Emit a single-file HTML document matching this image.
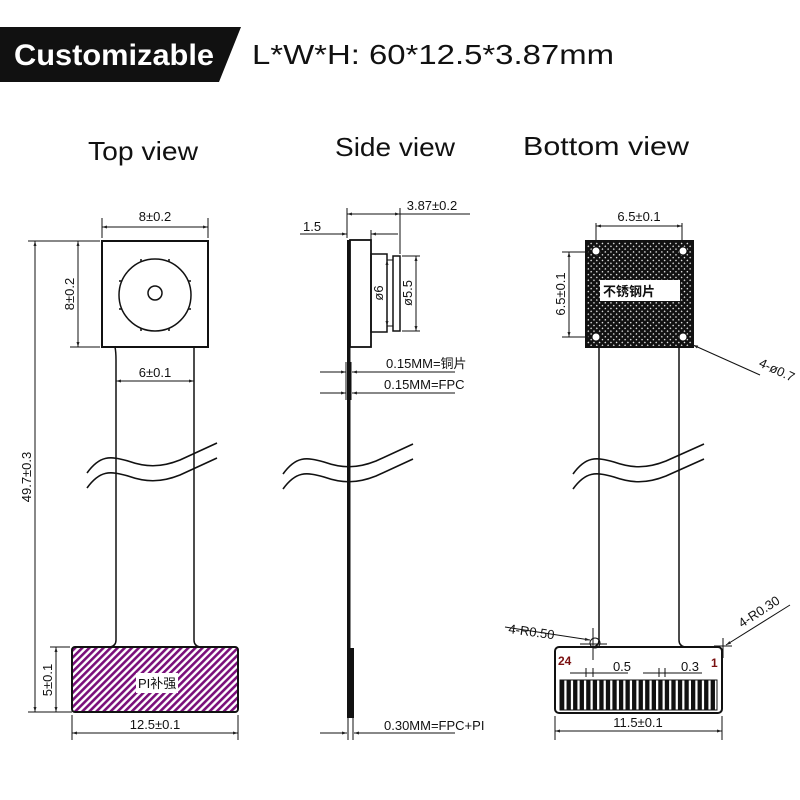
<!DOCTYPE html>
<html><head><meta charset="utf-8"><style>
html,body{margin:0;padding:0;background:#fff;}
svg{display:block;}
text{font-family:"Liberation Sans","Noto Sans CJK SC",sans-serif;}
.d{font-family:"Liberation Sans Narrow","Liberation Sans","Noto Sans CJK SC",sans-serif;font-size:13px;fill:#111;}
</style></head><body>
<svg width="800" height="800" viewBox="0 0 800 800" xmlns="http://www.w3.org/2000/svg">
<defs>
<pattern id="ph" patternUnits="userSpaceOnUse" width="5" height="5" patternTransform="rotate(45)">
<rect width="5" height="5" fill="#fff"/><rect width="2.6" height="5" fill="#7a0f7a"/>
</pattern>
<pattern id="xh" patternUnits="userSpaceOnUse" width="4" height="4" patternTransform="rotate(45)">
<rect width="4" height="4" fill="#111"/><rect x="1.5" y="1.5" width="1.3" height="1.3" fill="#fff"/>
</pattern>
<marker id="a" viewBox="0 0 10 10" refX="10" refY="5" markerWidth="7" markerHeight="5" orient="auto-start-reverse"><path d="M0,2 L10,5 L0,8z" fill="#222"/></marker>
</defs>
<!-- banner -->
<polygon points="0,27 241,27 219,82 0,82" fill="#111"/>
<text x="14" y="65" font-size="30" font-weight="bold" fill="#fff" textLength="200" lengthAdjust="spacingAndGlyphs">Customizable</text>
<text x="252" y="64" font-size="28" fill="#111" textLength="362" lengthAdjust="spacingAndGlyphs">L*W*H:  60*12.5*3.87mm</text>
<text x="88" y="160" font-size="26" fill="#111" font-family="DejaVu Sans" textLength="110" lengthAdjust="spacingAndGlyphs">Top view</text>
<text x="335" y="156" font-size="26" fill="#111" font-family="DejaVu Sans" textLength="120" lengthAdjust="spacingAndGlyphs">Side view</text>
<text x="523" y="155" font-size="26" fill="#111" font-family="DejaVu Sans" textLength="166" lengthAdjust="spacingAndGlyphs">Bottom view</text>

<g stroke="#111" fill="none" stroke-width="1">
<!-- TOP VIEW -->
<rect x="102" y="241" width="106" height="106" stroke-width="2"/>
<circle cx="155" cy="295" r="36" stroke-width="1.5"/>
<g stroke-width="1.5"><path d="M141,262 l0,-3 M169,262 l0,-3 M141,328 l0,3 M169,328 l0,3 M122,281 l-3,0 M122,309 l-3,0 M188,281 l3,0 M188,309 l3,0"/></g>
<circle cx="155" cy="293" r="7" stroke-width="1.5"/>
<path d="M115,347 Q116,352 116,360 L116,640 Q116,646 110,647 M194,347 Q194,352 194,360 L194,640 Q194,646 200,647" stroke-width="1.5"/>
<rect x="72" y="647" width="166" height="65" rx="3" fill="url(#ph)" stroke-width="2"/>
<path d="M87,473 C100,455 110,456 128,461 C145,467 160,468 180,460 L217,443 M87,488 C100,470 110,471 128,476 C145,482 160,483 180,475 L217,458" stroke-width="1.6"/>
<line x1="102" y1="218" x2="102" y2="238"/><line x1="208" y1="218" x2="208" y2="238"/>
<line x1="102" y1="227" x2="208" y2="227" marker-start="url(#a)" marker-end="url(#a)"/>
<line x1="70" y1="241" x2="100" y2="241"/><line x1="70" y1="347" x2="100" y2="347"/>
<line x1="78" y1="241" x2="78" y2="347" marker-start="url(#a)" marker-end="url(#a)"/>
<line x1="28" y1="241" x2="70" y2="241"/>
<line x1="35" y1="241" x2="35" y2="712" marker-start="url(#a)" marker-end="url(#a)"/>
<line x1="28" y1="712" x2="72" y2="712"/>
<line x1="116" y1="381" x2="194" y2="381" marker-start="url(#a)" marker-end="url(#a)"/>
<line x1="50" y1="647" x2="70" y2="647"/>
<line x1="56" y1="647" x2="56" y2="712" marker-start="url(#a)" marker-end="url(#a)"/>
<line x1="72" y1="715" x2="72" y2="740"/><line x1="238" y1="715" x2="238" y2="740"/>
<line x1="72" y1="733" x2="238" y2="733" marker-start="url(#a)" marker-end="url(#a)"/>

<!-- SIDE VIEW -->
<rect x="347" y="240" width="3.5" height="478" fill="#111" stroke="none"/>
<rect x="350" y="240" width="21" height="107" stroke-width="1.8"/>
<rect x="371" y="254" width="16" height="78" stroke-width="1.5"/>
<rect x="393" y="256" width="7" height="75" stroke-width="1.5"/>
<line x1="387" y1="260" x2="393" y2="260"/><line x1="387" y1="326" x2="393" y2="326"/>
<path d="M283,474 C296,456 306,457 324,462 C341,468 356,469 376,461 L413,444 M283,489 C296,471 306,472 324,477 C341,483 356,484 376,476 L413,459" stroke-width="1.6"/>
<line x1="347" y1="208" x2="347" y2="238"/><line x1="400" y1="208" x2="400" y2="254"/>
<line x1="347" y1="214" x2="400" y2="214" marker-start="url(#a)" marker-end="url(#a)"/>
<line x1="400" y1="214" x2="470" y2="214"/>
<line x1="371" y1="230" x2="371" y2="240"/>
<line x1="371" y1="234" x2="398" y2="234" marker-start="url(#a)"/>
<line x1="300" y1="234" x2="347" y2="234" marker-end="url(#a)"/>
<line x1="387" y1="260" x2="387" y2="326" marker-start="url(#a)" marker-end="url(#a)"/>
<line x1="402" y1="256" x2="420" y2="256"/><line x1="402" y1="331" x2="420" y2="331"/>
<line x1="416" y1="256" x2="416" y2="331" marker-start="url(#a)" marker-end="url(#a)"/>
<line x1="320" y1="372" x2="346" y2="372" marker-end="url(#a)"/>
<line x1="352" y1="372" x2="455" y2="372" marker-start="url(#a)"/>
<line x1="320" y1="393" x2="346" y2="393" marker-end="url(#a)"/>
<line x1="352" y1="393" x2="455" y2="393" marker-start="url(#a)"/>
<line x1="346" y1="362" x2="346" y2="400"/><line x1="351" y1="362" x2="351" y2="400"/>
<rect x="349" y="648" width="5" height="70" fill="#111" stroke="none"/>
<line x1="348" y1="716" x2="348" y2="740"/><line x1="353" y1="716" x2="353" y2="740"/>
<line x1="320" y1="733" x2="347" y2="733" marker-end="url(#a)"/>
<line x1="354" y1="733" x2="455" y2="733" marker-start="url(#a)"/>

<!-- BOTTOM VIEW -->
<rect x="586" y="241" width="107" height="106" fill="url(#xh)" stroke-width="2"/>
<rect x="600" y="280" width="80" height="21" fill="#fff" stroke="none"/>
<g fill="#fff" stroke="#111"><circle cx="596" cy="251" r="4"/><circle cx="683" cy="251" r="4"/><circle cx="596" cy="337" r="4"/><circle cx="683" cy="337" r="4"/></g>
<path d="M599,347 Q599,352 599,360 L599,640 Q599,646 593,647 M679,347 Q679,352 679,360 L679,640 Q679,646 685,647" stroke-width="1.5"/>
<path d="M573,474 C586,456 596,457 614,462 C631,468 646,469 666,461 L704,444 M573,489 C586,471 596,472 614,477 C631,483 646,484 666,476 L704,459" stroke-width="1.6"/>
<rect x="555" y="647" width="167" height="66" rx="4" fill="#fff" stroke-width="2"/>
<line x1="596" y1="223" x2="596" y2="240"/><line x1="682" y1="223" x2="682" y2="240"/>
<line x1="596" y1="226" x2="682" y2="226" marker-start="url(#a)" marker-end="url(#a)"/>
<line x1="562" y1="252" x2="590" y2="252"/><line x1="562" y1="337" x2="590" y2="337"/>
<line x1="569" y1="252" x2="569" y2="337" marker-start="url(#a)" marker-end="url(#a)"/>
<line x1="693" y1="345" x2="760" y2="375" marker-start="url(#a)"/>
<line x1="505" y1="627" x2="590" y2="640" marker-end="url(#a)"/>
<line x1="593" y1="628" x2="593" y2="660"/><line x1="580" y1="644" x2="607" y2="644"/>
<circle cx="595" cy="643" r="5"/>
<line x1="790" y1="605" x2="726" y2="645" marker-end="url(#a)"/>
<line x1="714" y1="646" x2="732" y2="646"/><line x1="723" y1="638" x2="723" y2="658"/>
<line x1="570" y1="673" x2="628" y2="673"/><line x1="586" y1="668" x2="586" y2="677"/><line x1="593" y1="668" x2="593" y2="677"/>
<line x1="643" y1="673" x2="702" y2="673"/><line x1="659" y1="668" x2="659" y2="677"/><line x1="665" y1="668" x2="665" y2="677"/>
<line x1="555" y1="716" x2="555" y2="740"/><line x1="722" y1="716" x2="722" y2="740"/>
<line x1="555" y1="731" x2="722" y2="731" marker-start="url(#a)" marker-end="url(#a)"/>
</g>
<g fill="#111">
<rect x="560" y="680" width="157" height="30" fill="#fff" stroke="#111" stroke-width="1"/>
<rect x="560" y="680" width="4.3" height="30"/><rect x="566.55" y="680" width="4.3" height="30"/><rect x="573.1" y="680" width="4.3" height="30"/><rect x="579.65" y="680" width="4.3" height="30"/><rect x="586.2" y="680" width="4.3" height="30"/><rect x="592.75" y="680" width="4.3" height="30"/><rect x="599.3" y="680" width="4.3" height="30"/><rect x="605.85" y="680" width="4.3" height="30"/><rect x="612.4" y="680" width="4.3" height="30"/><rect x="618.95" y="680" width="4.3" height="30"/><rect x="625.5" y="680" width="4.3" height="30"/><rect x="632.05" y="680" width="4.3" height="30"/><rect x="638.6" y="680" width="4.3" height="30"/><rect x="645.15" y="680" width="4.3" height="30"/><rect x="651.7" y="680" width="4.3" height="30"/><rect x="658.25" y="680" width="4.3" height="30"/><rect x="664.8" y="680" width="4.3" height="30"/><rect x="671.35" y="680" width="4.3" height="30"/><rect x="677.9" y="680" width="4.3" height="30"/><rect x="684.45" y="680" width="4.3" height="30"/><rect x="691" y="680" width="4.3" height="30"/><rect x="697.55" y="680" width="4.3" height="30"/><rect x="704.1" y="680" width="4.3" height="30"/><rect x="710.65" y="680" width="4.3" height="30"/>
</g>
<rect x="136" y="673" width="42" height="20" fill="#fff"/>
<text class="d" x="138" y="688" font-size="12">PI补强</text>
<text class="d" x="155" y="221" text-anchor="middle">8±0.2</text>
<text class="d" x="155" y="377" text-anchor="middle">6±0.1</text>
<text class="d" x="155" y="729" text-anchor="middle">12.5±0.1</text>
<text class="d" transform="translate(74,294) rotate(-90)" text-anchor="middle">8±0.2</text>
<text class="d" transform="translate(31,477) rotate(-90)" text-anchor="middle">49.7±0.3</text>
<text class="d" transform="translate(52,680) rotate(-90)" text-anchor="middle">5±0.1</text>
<text class="d" x="432" y="210" text-anchor="middle">3.87±0.2</text>
<text class="d" x="303" y="231">1.5</text>
<text class="d" transform="translate(383,293) rotate(-90)" text-anchor="middle">ø6</text>
<text class="d" transform="translate(412,293) rotate(-90)" text-anchor="middle">ø5.5</text>
<text class="d" x="386" y="368">0.15MM=铜片</text>
<text class="d" x="384" y="389">0.15MM=FPC</text>
<text class="d" x="384" y="730">0.30MM=FPC+PI</text>
<text class="d" x="639" y="221" text-anchor="middle">6.5±0.1</text>
<text class="d" transform="translate(565,294) rotate(-90)" text-anchor="middle">6.5±0.1</text>
<text class="d" x="603" y="296" font-weight="bold">不锈钢片</text>
<text class="d" transform="translate(758,366) rotate(25)" font-size="8">4-ø0.7</text>
<text class="d" x="508" y="633" transform="rotate(8 508 633)">4-R0.50</text>
<text class="d" transform="translate(742,628) rotate(-33)">4-R0.30</text>
<text x="558" y="665" font-size="12" font-weight="bold" fill="#7a1010">24</text>
<text x="711" y="667" font-size="12" font-weight="bold" fill="#7a1010">1</text>
<text class="d" x="622" y="671" text-anchor="middle" font-size="14">0.5</text>
<text class="d" x="690" y="671" text-anchor="middle" font-size="14">0.3</text>
<text class="d" x="638" y="727" text-anchor="middle">11.5±0.1</text>
</svg>
</body></html>
